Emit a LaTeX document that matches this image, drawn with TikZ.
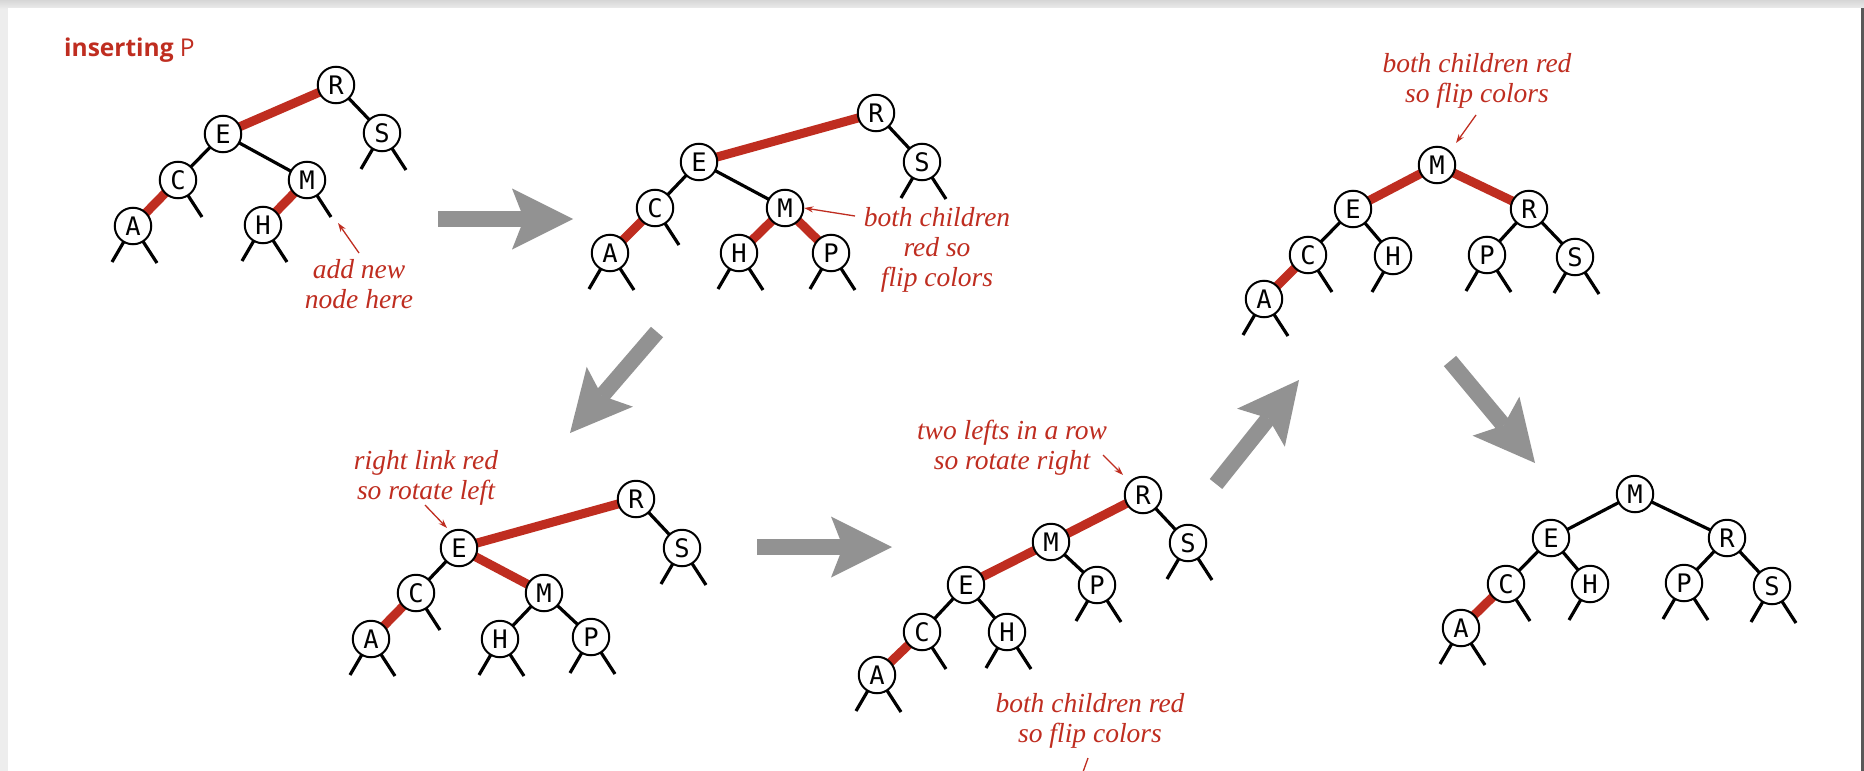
\documentclass[tikz,border=0pt]{standalone}
\usepackage{fontspec}
\newfontfamily\keyfont{DejaVu Sans Mono}
\newfontfamily\headfont{Open Sans}
\newfontfamily\notefont{Liberation Serif}
\usetikzlibrary{arrows.meta}
\definecolor{redlink}{RGB}{191,45,32}
\definecolor{arrowgray}{RGB}{146,146,146}
\pgfdeclarelayer{paper}
\pgfdeclarelayer{links}
\pgfsetlayers{paper,links,main}
\tikzset{
  key/.style={circle, draw=black, line width=2pt, fill=white, minimum size=36.5pt, inner sep=0pt,
    font=\keyfont\fontsize{25.5}{25.5}\selectfont},
  blk/.style={line width=3.2pt, black},
  rd/.style={line width=9pt, redlink},
  stub/.style={line width=3.2pt, black},
  note/.style={redlink, align=center, inner sep=0pt, font=\notefont\itshape\fontsize{27.5}{30}\selectfont},
  notearrow/.style={redlink, line width=1.3pt, -{Stealth[length=9pt,width=6pt]}},
  bigarrow/.style={arrowgray, line width=16pt, -{Stealth[length=61pt,width=61pt,inset=12pt,line width=0pt]}},
}
\newcommand\stubboth[1]{\draw[stub] (#1.center) -- ++(-21,36); \draw[stub] (#1.center) -- ++(24,37);}
\newcommand\stubleft[1]{\draw[stub] (#1.center) -- ++(-21,36);}
\newcommand\stubright[1]{\draw[stub] (#1.center) -- ++(24,37);}
\begin{document}
\begin{tikzpicture}[x=1pt,y=-1pt]
\useasboundingbox (0,0) rectangle (1864,771);
\begin{pgfonlayer}{paper}
  \fill[gray!14] (0,0) rectangle (1864,771);
  \shade[top color=gray!32, bottom color=gray!16] (0,0) rectangle (1864,8);
  \fill[white] (8,8) rectangle (1861,771);
  \fill[black!65] (1861,8) rectangle (1864,771);
\end{pgfonlayer}

% heading
\node[anchor=base west, inner sep=0pt, text=redlink, font=\headfont\fontsize{24.5}{24.5}\selectfont] (title) at (64,56) {\textbf{inserting} P};

% ---------------- tree 1
\node[key] (r1) at (336,85) {R};
\node[key] (e1) at (223,134) {E};
\node[key] (s1) at (382,133) {S};
\node[key] (c1) at (178,180) {C};
\node[key] (m1) at (307,180) {M};
\node[key] (a1) at (133,226) {A};
\node[key] (h1) at (263,225) {H};
\begin{pgfonlayer}{links}
  \draw[rd] (e1.center) -- (r1.center);
  \draw[rd] (c1.center) -- (a1.center);
  \draw[rd] (m1.center) -- (h1.center);
  \draw[blk] (e1.center) -- (c1.center);
  \draw[blk] (e1.center) -- (m1.center);
  \draw[blk] (r1.center) -- (s1.center);
  \stubboth{s1}\stubright{c1}\stubboth{a1}\stubboth{h1}\stubright{m1}
\end{pgfonlayer}
\node[note] (n1) at (359,284) {add new\\node here};
\coordinate (n1a) at (359,253);
\coordinate (n1b) at (338,223);
\draw[notearrow] (n1a) -- (n1b);

% ---------------- tree 2
\node[key] (r2) at (876,113) {R};
\node[key] (e2) at (699,162) {E};
\node[key] (s2) at (922,162) {S};
\node[key] (c2) at (655,208) {C};
\node[key] (m2) at (785,208) {M};
\node[key] (a2) at (610,253) {A};
\node[key] (h2) at (739,253) {H};
\node[key] (p2) at (831,253) {P};
\begin{pgfonlayer}{links}
  \draw[rd] (e2.center) -- (r2.center);
  \draw[rd] (c2.center) -- (a2.center);
  \draw[rd] (m2.center) -- (h2.center);
  \draw[rd] (m2.center) -- (p2.center);
  \draw[blk] (e2.center) -- (c2.center);
  \draw[blk] (e2.center) -- (m2.center);
  \draw[blk] (r2.center) -- (s2.center);
  \stubboth{s2}\stubright{c2}\stubboth{a2}\stubboth{h2}\stubboth{p2}
\end{pgfonlayer}
\node[note] (n2) at (937,250) {both children\\red so\\flip colors};
\coordinate (n2a) at (855,216);
\draw[notearrow] (n2a) -- (m2.east);

% ---------------- tree 3
\node[key] (m3) at (1437,165) {M};
\node[key] (e3) at (1353,209) {E};
\node[key] (r3) at (1529,209) {R};
\node[key] (c3) at (1308,255) {C};
\node[key] (h3) at (1393,256) {H};
\node[key] (p3) at (1487,255) {P};
\node[key] (s3) at (1575,257) {S};
\node[key] (a3) at (1264,299) {A};
\begin{pgfonlayer}{links}
  \draw[rd] (m3.center) -- (e3.center);
  \draw[rd] (m3.center) -- (r3.center);
  \draw[rd] (c3.center) -- (a3.center);
  \draw[blk] (e3.center) -- (c3.center);
  \draw[blk] (e3.center) -- (h3.center);
  \draw[blk] (r3.center) -- (p3.center);
  \draw[blk] (r3.center) -- (s3.center);
  \stubright{c3}\stubleft{h3}\stubboth{p3}\stubboth{s3}\stubboth{a3}
\end{pgfonlayer}
\node[note] (n3) at (1477,81) {both children red\\so flip colors};
\coordinate (n3a) at (1476,115);
\coordinate (n3b) at (1456,143);
\draw[notearrow] (n3a) -- (n3b);

% ---------------- tree 4
\node[key] (r4) at (636,499) {R};
\node[key] (e4) at (459,548) {E};
\node[key] (s4) at (682,548) {S};
\node[key] (c4) at (416,593) {C};
\node[key] (m4) at (544,593) {M};
\node[key] (a4) at (371,639) {A};
\node[key] (h4) at (500,639) {H};
\node[key] (p4) at (591,637) {P};
\begin{pgfonlayer}{links}
  \draw[rd] (e4.center) -- (r4.center);
  \draw[rd] (e4.center) -- (m4.center);
  \draw[rd] (c4.center) -- (a4.center);
  \draw[blk] (e4.center) -- (c4.center);
  \draw[blk] (r4.center) -- (s4.center);
  \draw[blk] (m4.center) -- (h4.center);
  \draw[blk] (m4.center) -- (p4.center);
  \stubboth{s4}\stubright{c4}\stubboth{a4}\stubboth{h4}\stubboth{p4}
\end{pgfonlayer}
\node[note] (n4) at (426,478) {right link red\\so rotate left};
\coordinate (n4a) at (425,505);
\coordinate (n4b) at (447,528);
\draw[notearrow] (n4a) -- (n4b);

% ---------------- tree 5
\node[key] (r5) at (1143,495) {R};
\node[key] (m5) at (1051,542) {M};
\node[key] (s5) at (1188,543) {S};
\node[key] (e5) at (966,585) {E};
\node[key] (p5) at (1097,585) {P};
\node[key] (c5) at (922,632) {C};
\node[key] (h5) at (1007,632) {H};
\node[key] (a5) at (877,675) {A};
\begin{pgfonlayer}{links}
  \draw[rd] (r5.center) -- (m5.center);
  \draw[rd] (m5.center) -- (e5.center);
  \draw[rd] (c5.center) -- (a5.center);
  \draw[blk] (e5.center) -- (c5.center);
  \draw[blk] (e5.center) -- (h5.center);
  \draw[blk] (m5.center) -- (p5.center);
  \draw[blk] (r5.center) -- (s5.center);
  \stubboth{s5}\stubboth{p5}\stubright{c5}\stubboth{h5}\stubboth{a5}
\end{pgfonlayer}
\node[note] (n5) at (1012,448) {two lefts in a row\\so rotate right};
\coordinate (n5a) at (1103,455);
\coordinate (n5b) at (1123,475);
\draw[notearrow] (n5a) -- (n5b);
\node[note] (n5c) at (1090,721) {both children red\\so flip colors};
\coordinate (n5d) at (1088,758);
\coordinate (n5e) at (1083,772);
\draw[redlink, line width=1.3pt] (n5d) -- (n5e);

% ---------------- tree 6
\node[key] (m6) at (1635,494) {M};
\node[key] (e6) at (1551,538) {E};
\node[key] (r6) at (1727,538) {R};
\node[key] (c6) at (1506,584) {C};
\node[key] (h6) at (1590,584) {H};
\node[key] (p6) at (1684,583) {P};
\node[key] (s6) at (1772,586) {S};
\node[key] (a6) at (1461,628) {A};
\begin{pgfonlayer}{links}
  \draw[rd] (c6.center) -- (a6.center);
  \draw[blk] (m6.center) -- (e6.center);
  \draw[blk] (m6.center) -- (r6.center);
  \draw[blk] (e6.center) -- (c6.center);
  \draw[blk] (e6.center) -- (h6.center);
  \draw[blk] (r6.center) -- (p6.center);
  \draw[blk] (r6.center) -- (s6.center);
  \stubright{c6}\stubleft{h6}\stubboth{p6}\stubboth{s6}\stubboth{a6}
\end{pgfonlayer}

% ---------------- step arrows
\coordinate (g1a) at (438,219);  \coordinate (g1b) at (573,219);
\coordinate (g2a) at (657,332);  \coordinate (g2b) at (570,433);
\coordinate (g3a) at (757,547);  \coordinate (g3b) at (892,547);
\coordinate (g4a) at (1216,484); \coordinate (g4b) at (1299,380);
\coordinate (g5a) at (1450,361); \coordinate (g5b) at (1535,463);
\draw[bigarrow] (g1a) -- (g1b);
\draw[bigarrow] (g2a) -- (g2b);
\draw[bigarrow] (g3a) -- (g3b);
\draw[bigarrow] (g4a) -- (g4b);
\draw[bigarrow] (g5a) -- (g5b);
\end{tikzpicture}
\end{document}
